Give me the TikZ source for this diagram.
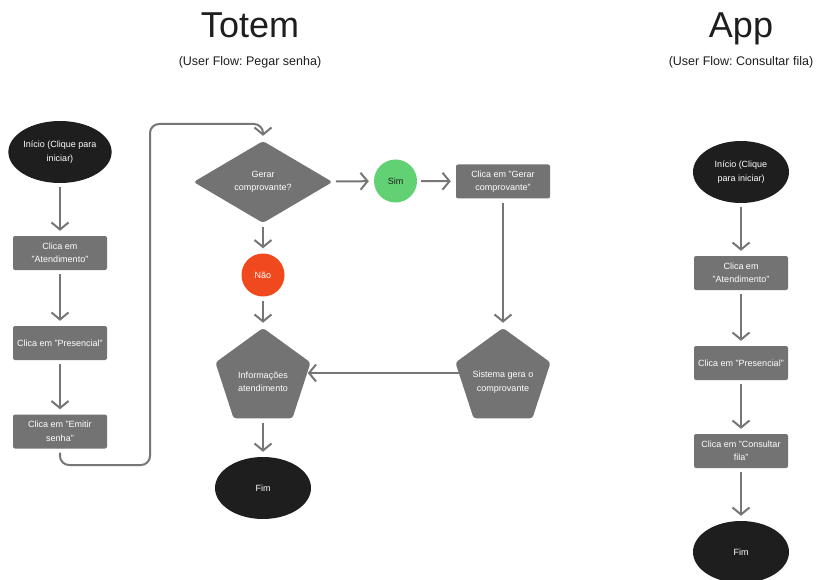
\documentclass[tikz,border=0pt]{standalone}
\usepackage{fontspec}
\setmainfont{Liberation Sans}
\usetikzlibrary{arrows.meta,shapes.geometric,calc}
\frenchspacing

\definecolor{boxgray}{HTML}{737373}
\definecolor{linegray}{HTML}{767676}
\definecolor{termblack}{HTML}{1E1E1E}
\definecolor{yesgreen}{HTML}{62D173}
\definecolor{nored}{HTML}{F0491E}

\tikzset{
  lbl/.style={font=\fontsize{9}{13.5}\selectfont, align=center, text=white},
  terminal/.style={lbl, ellipse, fill=termblack, minimum width=96pt, minimum height=62pt, inner sep=0pt},
  action/.style={lbl, rectangle, rounded corners=2pt, fill=boxgray, minimum width=94pt, minimum height=34pt, inner sep=0pt},
  decision/.style={lbl, diamond, rounded corners=3pt, fill=boxgray, minimum width=139pt, minimum height=82pt, inner sep=0pt},
  answer/.style={lbl, circle, minimum size=43pt, inner sep=0pt},
  output/.style={lbl, regular polygon, regular polygon sides=5, rounded corners=3pt, fill=boxgray, minimum size=100pt, inner sep=0pt},
  flow/.style={draw=linegray, line width=2pt, -{Straight Barb[length=7pt,width=17pt]}, shorten <=4pt, shorten >=5pt},
  heading/.style={font=\fontsize{36}{40}\selectfont, text=termblack, anchor=base},
  subheading/.style={font=\fontsize{12.5}{15}\selectfont, text=termblack, anchor=base},
}

\begin{document}
\begin{tikzpicture}[x=1pt,y=-1pt]
\useasboundingbox[fill=white] (0,0) rectangle (819,580);

% headings
\node[heading] (ttotem) at (250,38) {Totem};
\node[subheading] (stotem) at (250,66) {(User Flow: Pegar senha)};
\node[heading] (tapp) at (741,38) {App};
\node[subheading] (sapp) at (741,66) {(User Flow: Consultar fila)};

% totem: first column
\node[terminal] (ini) at (60,152) {Início (Clique para\\iniciar)};
\node[action] (atend) at (60,253) {Clica em\\"Atendimento"};
\node[action] (pres) at (60,343) {Clica em "Presencial"};
\node[action] (emit) at (60,431.5) {Clica em "Emitir\\senha"};

% totem: decision block
\node[decision] (gerar) at (263,182) {Gerar\\comprovante?};
\node[answer, fill=yesgreen, text=termblack] (sim) at (395.5,181) {Sim};
\node[answer, fill=nored] (nao) at (263,275) {Não};
\node[action] (cgerar) at (503,181.5) {Clica em "Gerar\\comprovante"};
\node[output] (info) at (263,378) {};
\node[lbl] (infot) at (263,382) {Informações\\atendimento};
\node[output] (sist) at (503,378) {};
\node[lbl] (sistt) at (503,382) {Sistema gera o\\comprovante};
\node[terminal] (fim) at (263,488) {Fim};

\draw[flow] (ini) -- (atend);
\draw[flow] (atend) -- (pres);
\draw[flow] (pres) -- (emit);
\draw[flow, rounded corners=9pt] (emit.south) -- (60,465) -- (150,465) -- (150,124) -- (263,124) -- (gerar.north);
\draw[flow] (gerar) -- (sim);
\draw[flow] (sim) -- (cgerar);
\draw[flow] (gerar) -- (nao);
\draw[flow] (nao) -- (info);
\draw[flow] (cgerar) -- (sist);
\draw[flow, shorten <=0pt, shorten >=2pt] ([yshift=5pt]sist.west) -- ([yshift=5pt]info.east);
\draw[flow] (info) -- (fim);

% app column
\node[terminal] (aini) at (741,172) {Início (Clique\\para iniciar)};
\node[action] (aatend) at (741,273) {Clica em\\"Atendimento"};
\node[action] (apres) at (741,363) {Clica em "Presencial"};
\node[action] (acons) at (741,451) {Clica em "Consultar\\fila"};
\node[terminal] (afim) at (741,552) {Fim};

\draw[flow] (aini) -- (aatend);
\draw[flow] (aatend) -- (apres);
\draw[flow] (apres) -- (acons);
\draw[flow] (acons) -- (afim);
\end{tikzpicture}
\end{document}
